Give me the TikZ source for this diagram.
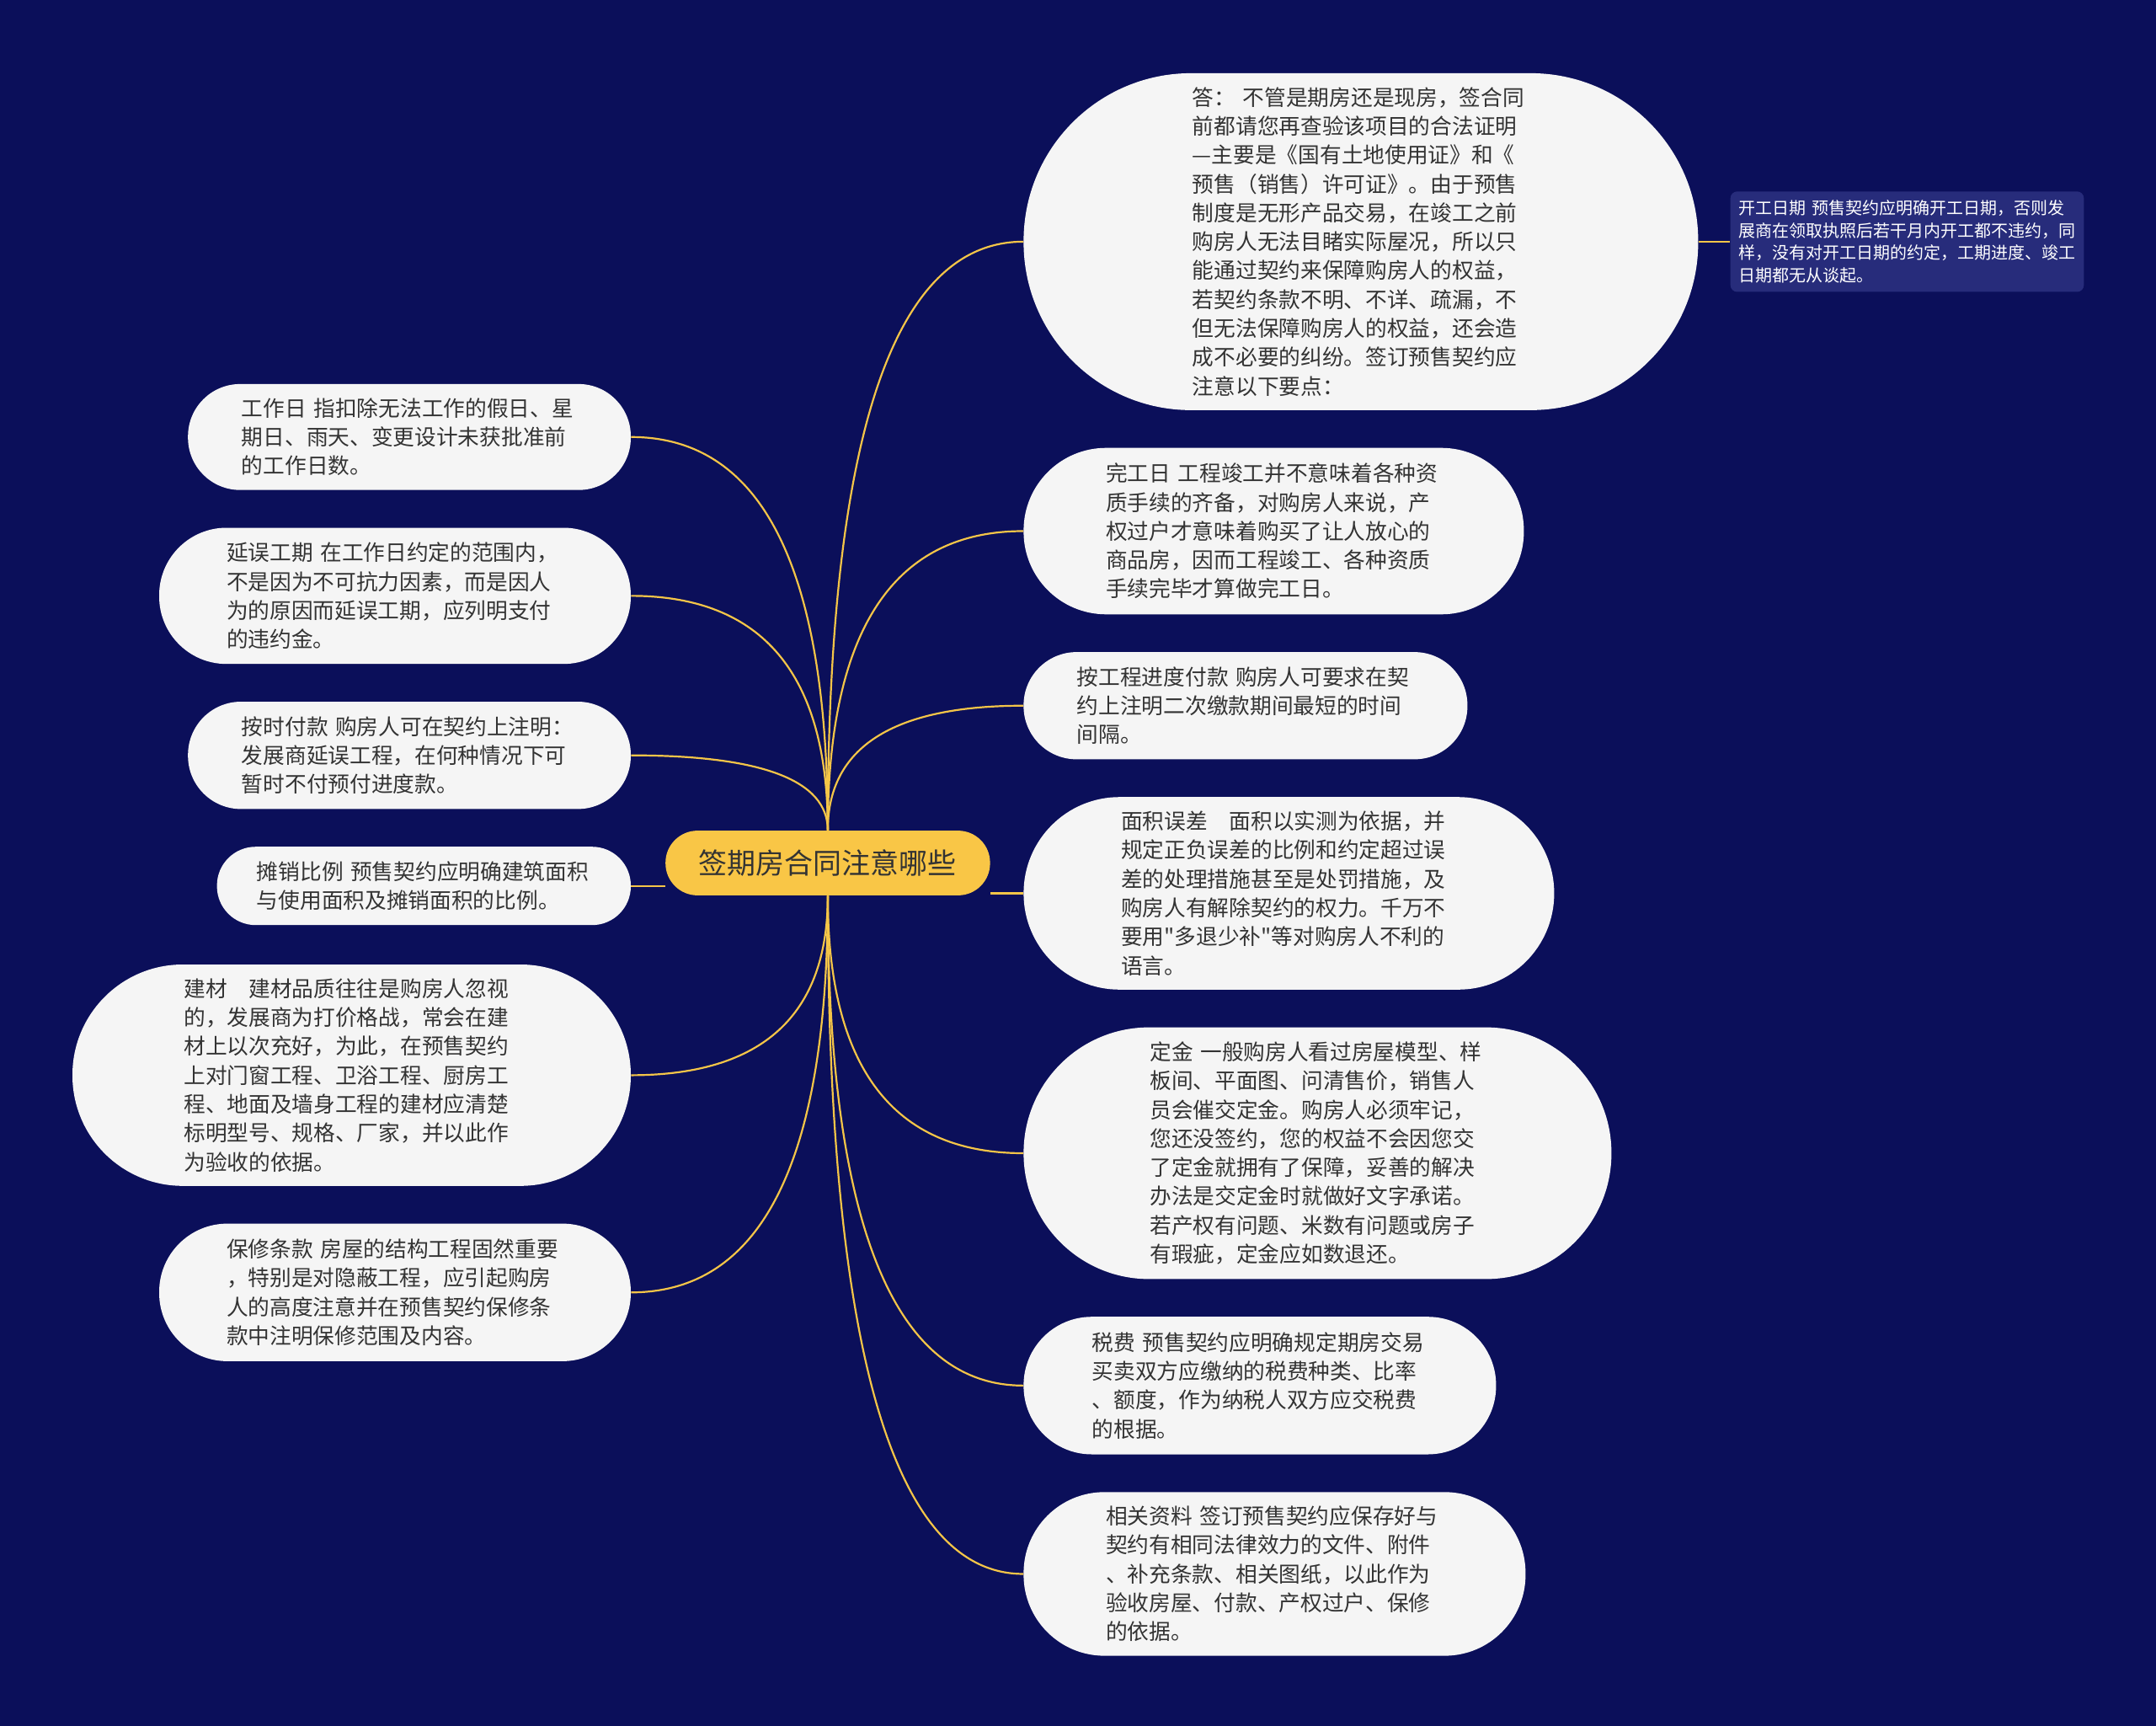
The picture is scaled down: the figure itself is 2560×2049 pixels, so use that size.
\documentclass[tikz,border=0pt]{standalone}
\usepackage{fontspec}
\newfontfamily\cjk{Noto Sans CJK SC}
\usetikzlibrary{positioning,calc}
\definecolor{mapNavy}{HTML}{0B0F5A}
\definecolor{noteNavy}{HTML}{272C7B}
\definecolor{topicGold}{HTML}{F9C646}
\definecolor{branchGold}{HTML}{F4C548}
\definecolor{leafFill}{HTML}{F5F5F5}
\definecolor{leafText}{HTML}{333333}

\begin{document}
\begin{tikzpicture}[x=0.5pt, y=-0.5pt, node distance=22pt,
    topic/.style={fill=topicGold, text=leafText, rounded corners=19pt, minimum width=192.7pt, minimum height=38.4pt, inner sep=0pt, font=\cjk\fontsize{17pt}{20pt}\selectfont},
    leaf/.style={fill=leafFill, text=leafText, inner sep=0pt, align=left, font=\cjk\fontsize{12.85pt}{17.15pt}\selectfont},
    lpad/.style={execute at begin node={\leftskip=#1\relax}},
    note/.style={fill=noteNavy, text=white, rounded corners=4pt, inner sep=0pt, align=left, text width=209.8pt, minimum height=59.6pt, lpad=4.9pt, font=\cjk\fontsize{10pt}{13.3pt}\selectfont},
    branch/.style={draw=branchGold, line width=1.1pt}]
  \useasboundingbox (0,0) rectangle (2560,2049);
  \fill[mapNavy] (0,0) rectangle (2560,2049);

  \node[topic] (root) at (982.9,1024.5) {签期房合同注意哪些};

  % right column
  \node[leaf, anchor=north west, text width=400.5pt, minimum height=200pt, rounded corners=99.5pt, lpad=100.25pt] (r1) at (1215,86.5)
    {答：~不管是期房还是现房，签合同\\前都请您再查验该项目的合法证明\\—主要是《国有土地使用证》和《\\预售（销售）许可证》。由于预售\\制度是无形产品交易，在竣工之前\\购房人无法目睹实际屋况，所以只\\能通过契约来保障购房人的权益，\\若契约条款不明、不详、疏漏，不\\但无法保障购房人的权益，还会造\\成不必要的纠纷。签订预售契约应\\注意以下要点：};
  \node[leaf, below=of r1.south west, anchor=north west, text width=297pt, minimum height=98.8pt, rounded corners=49pt, lpad=48.85pt] (r2)
    {完工日~工程竣工并不意味着各种资\\质手续的齐备，对购房人来说，产\\权过户才意味着购买了让人放心的\\商品房，因而工程竣工、各种资质\\手续完毕才算做完工日。};
  \node[leaf, below=of r2.south west, anchor=north west, text width=263.5pt, minimum height=63.65pt, rounded corners=31.5pt, lpad=31.7pt] (r3)
    {按工程进度付款~购房人可要求在契\\约上注明二次缴款期间最短的时间\\间隔。};
  \node[leaf, below=of r3.south west, anchor=north west, text width=315pt, minimum height=114.3pt, rounded corners=57pt, lpad=57.85pt] (r4)
    {面积误差　面积以实测为依据，并\\规定正负误差的比例和约定超过误\\差的处理措施甚至是处罚措施，及\\购房人有解除契约的权力。千万不\\要用"多退少补"等对购房人不利的\\语言。};
  \node[leaf, below=of r4.south west, anchor=north west, text width=349pt, minimum height=149.4pt, rounded corners=74.5pt, lpad=75pt] (r5)
    {定金~一般购房人看过房屋模型、样\\板间、平面图、问清售价，销售人\\员会催交定金。购房人必须牢记，\\您还没签约，您的权益不会因您交\\了定金就拥有了保障，妥善的解决\\办法是交定金时就做好文字承诺。\\若产权有问题、米数有问题或房子\\有瑕疵，定金应如数退还。};
  \node[leaf, below=of r5.south west, anchor=north west, text width=280.5pt, minimum height=81.65pt, rounded corners=40.5pt, lpad=40.7pt] (r6)
    {税费~预售契约应明确规定期房交易\\买卖双方应缴纳的税费种类、比率\\、额度，作为纳税人双方应交税费\\的根据。};
  \node[leaf, below=of r6.south west, anchor=north west, text width=298pt, minimum height=97.15pt, rounded corners=48pt, lpad=48.85pt] (r7)
    {相关资料~签订预售契约应保存好与\\契约有相同法律效力的文件、附件\\、补充条款、相关图纸，以此作为\\验收房屋、付款、产权过户、保修\\的依据。};
  \node[note, right=18.75pt of r1] (s)
    {开工日期~预售契约应明确开工日期，否则发\\展商在领取执照后若干月内开工都不违约，同\\样，没有对开工日期的约定，工期进度、竣工\\日期都无从谈起。};

  % left column
  \node[leaf, anchor=north east, text width=262.9pt, minimum height=62.9pt, rounded corners=31pt, lpad=31.85pt] (l1) at (749.4,455.5)
    {工作日~指扣除无法工作的假日、星\\期日、雨天、变更设计未获批准前\\的工作日数。};
  \node[leaf, below=of l1.south east, anchor=north east, text width=280pt, minimum height=80.85pt, rounded corners=40pt, lpad=40pt] (l2)
    {延误工期~在工作日约定的范围内，\\不是因为不可抗力因素，而是因人\\为的原因而延误工期，应列明支付\\的违约金。};
  \node[leaf, below=of l2.south east, anchor=north east, text width=262.9pt, minimum height=63.7pt, rounded corners=31.5pt, lpad=31.85pt] (l3)
    {按时付款~购房人可在契约上注明：\\发展商延误工程，在何种情况下可\\暂时不付预付进度款。};
  \node[leaf, below=of l3.south east, anchor=north east, text width=245.7pt, minimum height=46.5pt, rounded corners=23pt, lpad=23.65pt] (l4)
    {摊销比例~预售契约应明确建筑面积\\与使用面积及摊销面积的比例。};
  \node[leaf, below=23pt of l4.south east, anchor=north east, text width=331.5pt, minimum height=131.4pt, rounded corners=65.5pt, lpad=66.15pt] (l5)
    {建材　建材品质往往是购房人忽视\\的，发展商为打价格战，常会在建\\材上以次充好，为此，在预售契约\\上对门窗工程、卫浴工程、厨房工\\程、地面及墙身工程的建材应清楚\\标明型号、规格、厂家，并以此作\\为验收的依据。};
  \node[leaf, below=of l5.south east, anchor=north east, text width=280pt, minimum height=81.65pt, rounded corners=40.5pt, lpad=40pt] (l6)
    {保修条款~房屋的结构工程固然重要\\，特别是对隐蔽工程，应引起购房\\人的高度注意并在预售契约保修条\\款中注明保修范围及内容。};

  % branches
  \foreach \n/\s/\e in {r1/north/west, r2/north/west, r3/north/west, l1/north/east, l2/north/east, l3/north/east,
                        r5/south/west, r6/south/west, r7/south/west, l5/south/east, l6/south/east}
    \draw[branch] (root.\s) .. controls ($(root.\s)!2/3!(root.\s |- \n.\e)$) and ($(\n.\e)!2/3!(root.\s |- \n.\e)$) .. (\n.\e);
  \draw[branch] (root.west |- l4.east) -- (l4.east);
  \draw[branch] (root.east |- r4.west) -- (r4.west);
  \draw[branch] (r1.east) -- (s.west);
\end{tikzpicture}
\end{document}
